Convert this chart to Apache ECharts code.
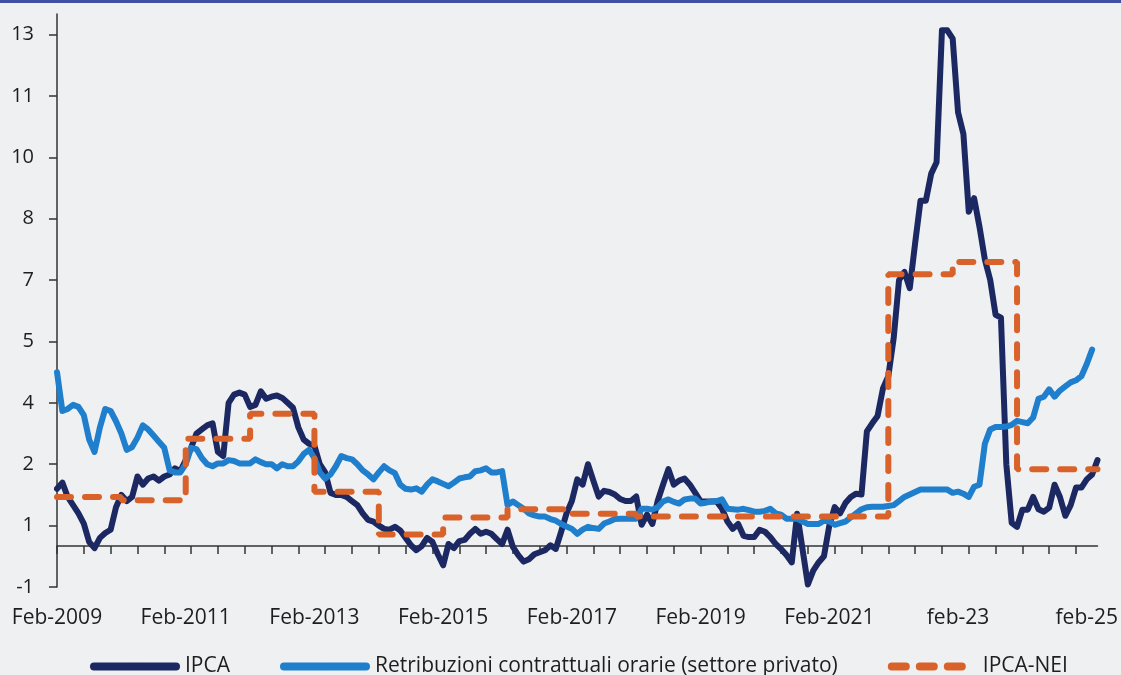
<!DOCTYPE html>
<html>
<head>
<meta charset="utf-8">
<script src="https://cdn.jsdelivr.net/npm/echarts/dist/echarts.min.js"></script>
<style>
  html, body { margin: 0; padding: 0; background: #eff0f2; }
  #chart { width: 1121px; height: 672px; border-top: 3px solid #3f51a3; }
</style>
</head>
<body>
<div id="chart"></div>
<script>
// monthly, starting Feb 2009
const startYear = 2009;
const startMonth = 1; // 0 = Jan
const monthNames = ['Jan', 'Feb', 'Mar', 'Apr', 'May', 'Jun', 'Jul', 'Aug', 'Sep', 'Oct', 'Nov', 'Dec'];

const xTickLabels = ['Feb-2009', 'Feb-2011', 'Feb-2013', 'Feb-2015', 'Feb-2017', 'Feb-2019', 'Feb-2021', 'feb-23', 'feb-25'];
const yTickLabels = ['-1', '1', '2', '4', '5', '7', '8', '10', '11', '13'];

const ipca = [
  1.4, 1.55, 1.2, 1.0, 0.8, 0.55, 0.1, -0.05, 0.2, 0.32,
  0.4, 0.95, 1.25, 1.1, 1.2, 1.7, 1.5, 1.65, 1.7, 1.6,
  1.7, 1.75, 1.9, 1.83, 2.1, 2.4, 2.75, 2.85, 2.95, 3.0,
  2.3, 2.2, 3.5, 3.7, 3.75, 3.7, 3.4, 3.45, 3.78, 3.6,
  3.65, 3.68, 3.62, 3.5, 3.38, 2.9, 2.6, 2.5, 2.45, 2.0,
  1.8, 1.3, 1.25, 1.25, 1.2, 1.1, 1.0, 0.8, 0.64, 0.6,
  0.5, 0.42, 0.4, 0.47, 0.38, 0.2, 0.02, -0.1, 0.0, 0.2,
  0.1, -0.2, -0.47, 0.05, -0.05, 0.12, 0.15, 0.3, 0.42, 0.3,
  0.35, 0.3, 0.17, 0.05, 0.4, -0.02, -0.22, -0.38, -0.32, -0.2,
  -0.15, -0.1, 0.02, -0.07, 0.35, 0.8, 1.1, 1.63, 1.5, 2.0,
  1.6, 1.21, 1.35, 1.32, 1.26, 1.15, 1.1, 1.1, 1.21, 0.52,
  0.77, 0.54, 1.1, 1.5, 1.88, 1.5, 1.6, 1.65, 1.5, 1.3,
  1.09, 1.09, 1.09, 1.09, 0.91, 0.6, 0.42, 0.54, 0.25, 0.22,
  0.22, 0.4, 0.35, 0.22, 0.05, -0.07, -0.22, -0.4, 0.79, -0.07,
  -0.94, -0.6, -0.4, -0.25, 0.5, 0.95, 0.8, 1.05, 1.2, 1.28,
  1.26, 2.8, 3.0, 3.18, 3.85, 4.15, 5.08, 6.5, 6.7, 6.3,
  7.4, 8.44, 8.44, 9.1, 9.38, 12.6, 12.6, 12.4, 10.6, 10.07,
  8.17, 8.5, 7.8, 7.0, 6.5, 5.65, 5.58, 2.0, 0.57, 0.47,
  0.89, 0.89, 1.2, 0.9, 0.84, 0.94, 1.5, 1.2, 0.74, 1.0,
  1.43, 1.43, 1.63, 1.75, 2.1
];

const retribuzioni = [
  4.25, 3.3, 3.35, 3.45, 3.4, 3.2, 2.6, 2.3, 2.9, 3.35,
  3.3, 3.05, 2.75, 2.35, 2.42, 2.65, 2.95, 2.85, 2.7, 2.55,
  2.4, 1.85, 1.8, 1.8, 2.0, 2.4, 2.37, 2.15, 2.0, 1.95,
  2.02, 2.02, 2.1, 2.08, 2.02, 2.02, 2.02, 2.12, 2.05, 2.0,
  2.0, 1.9, 2.0, 1.95, 1.95, 2.07, 2.25, 2.35, 2.15, 1.8,
  1.65, 1.75, 1.95, 2.2, 2.15, 2.12, 2.0, 1.85, 1.75, 1.63,
  1.8, 1.95, 1.85, 1.78, 1.5, 1.4, 1.38, 1.41, 1.33, 1.5,
  1.63, 1.58, 1.52, 1.46, 1.55, 1.65, 1.68, 1.7, 1.83, 1.85,
  1.9, 1.8, 1.8, 1.83, 1.0, 1.09, 1.0, 0.91, 0.8, 0.75,
  0.72, 0.72, 0.66, 0.62, 0.54, 0.48, 0.42, 0.3, 0.4, 0.47,
  0.44, 0.42, 0.55, 0.6, 0.66, 0.67, 0.67, 0.67, 0.67, 0.91,
  0.91, 0.89, 0.95, 1.09, 1.14, 1.08, 1.04, 1.14, 1.16, 1.16,
  1.04, 1.06, 1.09, 1.1, 1.14, 0.91, 0.9, 0.89, 0.91, 0.88,
  0.84, 0.84, 0.86, 0.91, 0.8, 0.77, 0.67, 0.67, 0.67, 0.6,
  0.54, 0.54, 0.54, 0.62, 0.6, 0.52, 0.56, 0.6, 0.7, 0.8,
  0.9, 0.95, 0.96, 0.96, 0.96, 0.98, 1.0, 1.1, 1.2, 1.26,
  1.32, 1.38, 1.38, 1.38, 1.38, 1.38, 1.38, 1.3, 1.33, 1.28,
  1.2, 1.45, 1.5, 2.5, 2.85, 2.91, 2.91, 2.92, 2.96, 3.06,
  3.03, 3.0, 3.14, 3.6, 3.65, 3.83, 3.65, 3.8, 3.9, 4.0,
  4.05, 4.15, 4.45, 4.8, null
];

// IPCA-NEI: month index where each level starts, and its value
const neiMonths = [0, 12, 24, 36, 48, 60, 72, 84, 96, 108, 155, 167, 179, 194];
const neiValues = [1.2, 1.12, 2.62, 3.23, 1.33, 0.28, 0.7, 0.9, 0.79, 0.72, 6.64, 6.94, 1.88, 1.88];

const categories = [];
for (let i = 0; i < ipca.length; i++) {
  const m = startMonth + i;
  categories.push(monthNames[m % 12] + '-' + (startYear + Math.floor(m / 12)));
}

const FONT = 'Open Sans';
const chart = echarts.init(document.getElementById('chart'));

chart.setOption({
  animation: false,
  backgroundColor: '#eff0f2',
  textStyle: { fontFamily: FONT },
  grid: { left: 57, right: 21, top: 11, bottom: 88 },
  legend: {
    data: ['IPCA', 'Retribuzioni contrattuali orarie (settore privato)', 'IPCA-NEI'],
    left: 85,
    top: 648,
    itemWidth: 82,
    itemHeight: 8,
    itemGap: 50,
    lineStyle: { width: 8 },
    textStyle: { fontFamily: FONT, fontSize: 21, color: '#1e1e1e', padding: [0, 0, 0, 4] }
  },
  xAxis: {
    type: 'category',
    data: categories,
    boundaryGap: false,
    axisLine: { onZero: true, lineStyle: { color: '#333', width: 1.5 } },
    axisTick: { interval: 4, length: 8, lineStyle: { color: '#333', width: 1.5 } },
    axisLabel: {
      interval: 23,
      margin: 21,
      fontSize: 21,
      color: '#1e1e1e',
      fontFamily: FONT,
      formatter: (val, idx) => xTickLabels[Math.round(idx / 24)]
    },
    splitLine: { show: false }
  },
  yAxis: {
    type: 'value',
    min: -1,
    max: 13,
    interval: 1.5,
    axisLine: { show: true, lineStyle: { color: '#333', width: 1.5 } },
    axisTick: { show: true, length: 8, lineStyle: { color: '#333', width: 1.5 } },
    axisLabel: {
      margin: 23,
      fontSize: 20,
      color: '#1e1e1e',
      fontFamily: FONT,
      showMaxLabel: false,
      formatter: v => {
        const k = Math.round((v + 1) / 1.5);
        return Math.abs(-1 + k * 1.5 - v) < 1e-6 ? yTickLabels[k] : '';
      }
    },
    splitLine: { show: false }
  },
  series: [
    {
      name: 'IPCA',
      type: 'line',
      data: ipca,
      showSymbol: false,
      symbol: 'none',
      z: 2,
      lineStyle: { color: '#1c2862', width: 6, cap: 'round', join: 'round' },
      itemStyle: { color: '#1c2862' }
    },
    {
      name: 'Retribuzioni contrattuali orarie (settore privato)',
      type: 'line',
      data: retribuzioni,
      showSymbol: false,
      symbol: 'none',
      z: 3,
      lineStyle: { color: '#1f7fcd', width: 6, cap: 'round', join: 'round' },
      itemStyle: { color: '#1f7fcd' }
    },
    {
      name: 'IPCA-NEI',
      type: 'line',
      step: 'end',
      data: neiMonths.map((m, i) => [m, neiValues[i]]),
      showSymbol: false,
      symbol: 'none',
      z: 4,
      lineStyle: { color: '#d9622b', width: 6, type: [14, 14], cap: 'round' },
      itemStyle: { color: '#d9622b' }
    }
  ]
});
</script>
</body>
</html>
